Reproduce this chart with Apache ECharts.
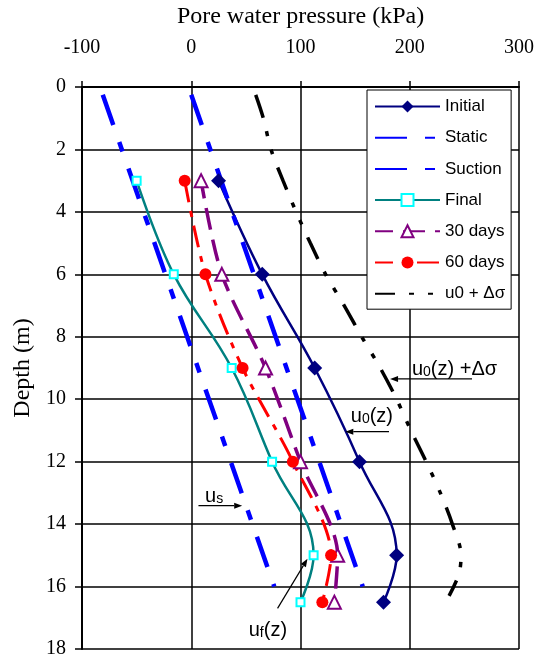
<!DOCTYPE html>
<html><head><meta charset="utf-8">
<script src="https://cdn.jsdelivr.net/npm/echarts@6/dist/echarts.min.js"></script>
<style>html,body{margin:0;padding:0;background:#fff}#c{width:537px;height:661px}</style>
</head><body><div id="c"></div>
<script>
// ---- data ----
const markerDepths = [3, 6, 9, 12, 15, 16.5];
const initialU = [25, 65, 113, 154, 188, 176];
const finalU = [-50, -16, 37, 74, 112, 100];
const days30U = [9, 28, 68, 100, 134, 131];
const days60U = [-6, 13, 47, 93, 128, 120];
const staticDepths = [0.25, 16];
const staticU = [0, 157];
const suctionDepths = [0.25, 16];
const suctionU = [-81, 76];
const stressDepths = [0.25, 1, 2, 3, 4, 5, 6, 7, 8, 9, 10, 11, 12, 13, 14, 15, 15.6, 16.3];
const stressU = [59, 66, 73, 84, 96, 109, 123, 140, 156, 173, 188, 201, 215, 228, 239, 247, 245, 236];
const xTicks = [-100, 0, 100, 200, 300];
const yTicks = [0, 2, 4, 6, 8, 10, 12, 14, 16, 18];

const chart = echarts.init(document.getElementById('c'));
const zip = (xs, ys) => xs.map((v, i) => [v, ys[i]]);
const serif = 'Liberation Serif';
const sans = 'Liberation Sans';
const hidden = {itemStyle: {opacity: 0}};

chart.setOption({
  animation: false,
  backgroundColor: '#fff',
  grid: {left: 82, right: 15, top: 84, bottom: 12},
  xAxis: {
    type: 'value', position: 'top',
    min: xTicks[0], max: xTicks[xTicks.length - 1], interval: xTicks[1] - xTicks[0],
    name: 'Pore water pressure (kPa)', nameLocation: 'middle', nameGap: 58,
    nameTextStyle: {fontFamily: serif, fontSize: 24, color: '#000'},
    axisLine: {show: true, onZero: false, lineStyle: {color: '#000', width: 2}},
    axisTick: {show: true, length: 6, lineStyle: {color: '#000', width: 1.5}},
    axisLabel: {fontFamily: serif, fontSize: 20, color: '#000', margin: 29},
    splitLine: {show: true, lineStyle: {color: '#000', width: 1.5}}
  },
  yAxis: {
    type: 'value', inverse: true,
    min: yTicks[0], max: yTicks[yTicks.length - 1], interval: yTicks[1] - yTicks[0],
    name: 'Depth (m)', nameLocation: 'middle', nameGap: 47, nameRotate: 90,
    nameTextStyle: {fontFamily: serif, fontSize: 24, color: '#000'},
    axisLine: {show: true, onZero: false, lineStyle: {color: '#000', width: 2}},
    axisTick: {show: true, length: 7, lineStyle: {color: '#000', width: 1.5}},
    axisLabel: {fontFamily: serif, fontSize: 20, color: '#000', margin: 16},
    splitLine: {show: true, lineStyle: {color: '#000', width: 1.5}}
  },
  legend: {
    orient: 'vertical', left: 367, top: 90,
    padding: [8, 6, 7, 7],
    itemWidth: 65, itemHeight: 15, itemGap: 14.2,
    backgroundColor: '#fff', borderColor: '#000', borderWidth: 1,
    textStyle: {fontFamily: sans, fontSize: 17, color: '#000', lineHeight: 15},
    data: [
      {name: 'Initial'},
      Object.assign({name: 'Static'}, hidden),
      Object.assign({name: 'Suction'}, hidden),
      {name: 'Final'},
      {name: '30 days'},
      {name: '60 days'},
      Object.assign({name: 'u0 + Δσ'}, hidden)
    ]
  },
  series: [
    {name: 'Initial', type: 'line', data: zip(initialU, markerDepths), smooth: 0.4,
     symbol: 'diamond', symbolSize: 15,
     lineStyle: {color: '#000080', width: 2.5}, itemStyle: {color: '#000080'}},
    {name: 'Static', type: 'line', data: zip(staticU, staticDepths), symbol: 'none',
     lineStyle: {color: '#0000ff', width: 4.5, type: [32, 18, 10, 18]}, itemStyle: {color: '#0000ff'}},
    {name: 'Suction', type: 'line', data: zip(suctionU, suctionDepths), symbol: 'none',
     lineStyle: {color: '#0000ff', width: 4.5, type: [32, 18, 10, 18]}, itemStyle: {color: '#0000ff'}},
    {name: 'Final', type: 'line', data: zip(finalU, markerDepths), smooth: 0.4,
     symbol: 'emptyRect', symbolSize: 8,
     lineStyle: {color: '#008080', width: 2.5}, itemStyle: {color: '#00ffff', borderWidth: 1.5}},
    {name: '30 days', type: 'line', data: zip(days30U, markerDepths), smooth: 0.3,
     symbol: 'emptyTriangle', symbolSize: 13,
     lineStyle: {color: '#800080', width: 3.5, type: [22, 10], dashOffset: 4}, itemStyle: {color: '#800080', borderWidth: 1.5}},
    {name: '60 days', type: 'line', data: zip(days60U, markerDepths), smooth: 0.3,
     symbol: 'circle', symbolSize: 12,
     lineStyle: {color: '#ff0000', width: 3, type: [22, 9, 6, 9]}, itemStyle: {color: '#ff0000'}},
    {name: 'u0 + Δσ', type: 'line', data: zip(stressU, stressDepths), smooth: 0.3, symbol: 'none',
     lineStyle: {color: '#000000', width: 3.5, type: [24, 14, 5, 14, 5, 14]}, itemStyle: {color: '#000000'}}
  ]
});

// ---- annotations (anchored in data coordinates) ----
const notes = [
  {text: '{a|u}{b|0}{a|(z) +Δσ}', at: [202, 9.04], from: [257, 9.35], to: [182, 9.35]},
  {text: '{a|u}{b|0}{a|(z)}', at: [146, 10.54], from: [181, 11.04], to: [141, 11.04]},
  {text: '{a|u}{b|s}', at: [12.7, 13.12], from: [6.6, 13.41], to: [46.6, 13.41]},
  {text: '{a|u}{b|f}{a|(z)}', at: [52.6, 17.4], from: [79, 16.7], to: [106.4, 15.11]}
];
const px = p => chart.convertToPixel({gridIndex: 0}, p);
const rich = {
  a: {fontFamily: sans, fontSize: 20, lineHeight: 20, padding: [0, 0, 3, 0], verticalAlign: 'top', color: '#000'},
  b: {fontFamily: sans, fontSize: 14, lineHeight: 14, verticalAlign: 'bottom', color: '#000'}
};
const graphics = [];
notes.forEach(n => {
  const t = px(n.at);
  graphics.push({type: 'text', x: t[0], y: t[1], z: 100,
    style: {text: n.text, rich: rich, align: 'left', verticalAlign: 'middle'}});
  const p0 = px(n.from), p1 = px(n.to);
  const dx = p1[0] - p0[0], dy = p1[1] - p0[1], L = Math.hypot(dx, dy);
  const ux = dx / L, uy = dy / L, hl = 8, hw = 3;
  const bx = p1[0] - ux * hl, by = p1[1] - uy * hl;
  graphics.push({type: 'line', z: 100, shape: {x1: p0[0], y1: p0[1], x2: bx, y2: by},
    style: {stroke: '#000', lineWidth: 1.2}});
  graphics.push({type: 'polygon', z: 100,
    shape: {points: [[p1[0], p1[1]], [bx - uy * hw, by + ux * hw], [bx + uy * hw, by - ux * hw]]},
    style: {fill: '#000'}});
});
chart.setOption({graphic: graphics});
</script>
</body></html>
